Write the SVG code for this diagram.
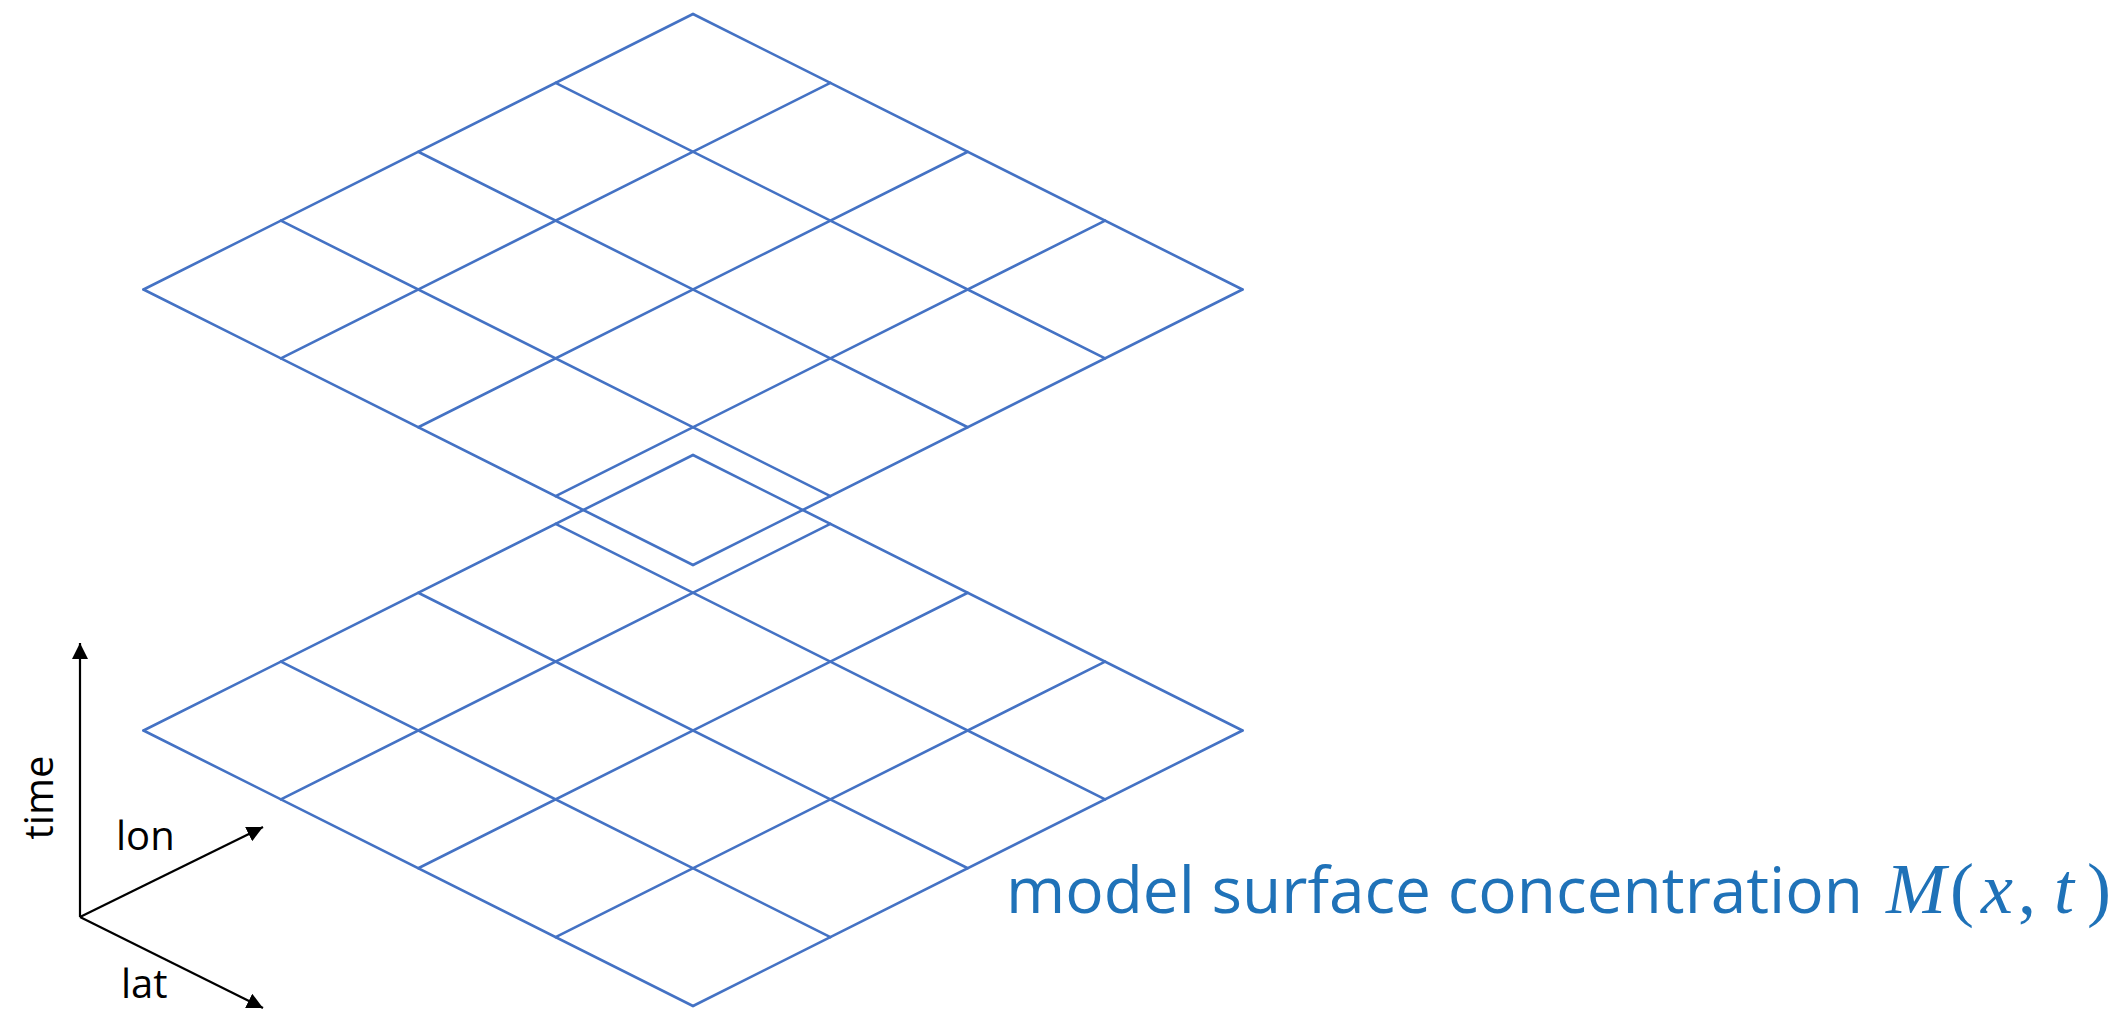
<svg xmlns="http://www.w3.org/2000/svg" xmlns:xlink="http://www.w3.org/1999/xlink" width="2122" height="1010" viewBox="0 0 2122 1010">
<style>
.grid line{stroke:#4472C4;stroke-width:2.6;stroke-linecap:round}
.axis{stroke:#000;stroke-width:2.2;fill:none}
.lbl{font-family:"Open Sans","Noto Sans",sans-serif;font-size:40px;fill:#000}
.title{font-family:"Open Sans","Noto Sans",sans-serif;font-size:64px;fill:#1F72B8}
.math{font-family:"Liberation Serif","DejaVu Serif",serif;font-size:72px;fill:#1F72B8}
</style>
<defs>
<marker id="ah" markerUnits="userSpaceOnUse" markerWidth="18" markerHeight="16" refX="16" refY="8" orient="auto">
<path d="M0,0 L16,8 L0,16 Z" fill="#000"/>
</marker>
<g id="layer" class="grid">
<line x1="693" y1="14" x2="143.5" y2="289.5"/>
<line x1="830.375" y1="82.875" x2="280.875" y2="358.375"/>
<line x1="967.75" y1="151.75" x2="418.25" y2="427.25"/>
<line x1="1105.125" y1="220.625" x2="555.625" y2="496.125"/>
<line x1="1242.5" y1="289.5" x2="693" y2="565"/>
<line x1="693" y1="14" x2="1242.5" y2="289.5"/>
<line x1="555.625" y1="82.875" x2="1105.125" y2="358.375"/>
<line x1="418.25" y1="151.75" x2="967.75" y2="427.25"/>
<line x1="280.875" y1="220.625" x2="830.375" y2="496.125"/>
<line x1="143.5" y1="289.5" x2="693" y2="565"/>
</g>
</defs>
<g id="layer-top"><use xlink:href="#layer" href="#layer"/></g>
<g id="layer-bottom"><use xlink:href="#layer" href="#layer" transform="translate(0,441)"/></g>
<g id="connectors">
<line class="axis" x1="80" y1="917" x2="80" y2="643" marker-end="url(#ah)"/>
<line class="axis" x1="80" y1="917" x2="263" y2="827" marker-end="url(#ah)"/>
<line class="axis" x1="80" y1="917" x2="263" y2="1008" marker-end="url(#ah)"/>
</g>
<g id="labels">
<text class="lbl" x="53" y="797.5" text-anchor="middle" transform="rotate(-90 53 797.5)">time</text>
<text class="lbl" x="116" y="850">lon</text>
<text class="lbl" x="121" y="998">lat</text>
</g>
<g id="caption">
<text class="title" x="1006" y="912.7" textLength="857" lengthAdjust="spacing">model surface concentration</text>
<text class="math" y="912.7"><tspan x="1886" font-style="italic">M</tspan><tspan x="1950">(</tspan><tspan x="1981" font-style="italic">x</tspan><tspan x="2018">,</tspan><tspan x="2054" font-style="italic">t</tspan><tspan x="2087">)</tspan></text>
</g>
</svg>
